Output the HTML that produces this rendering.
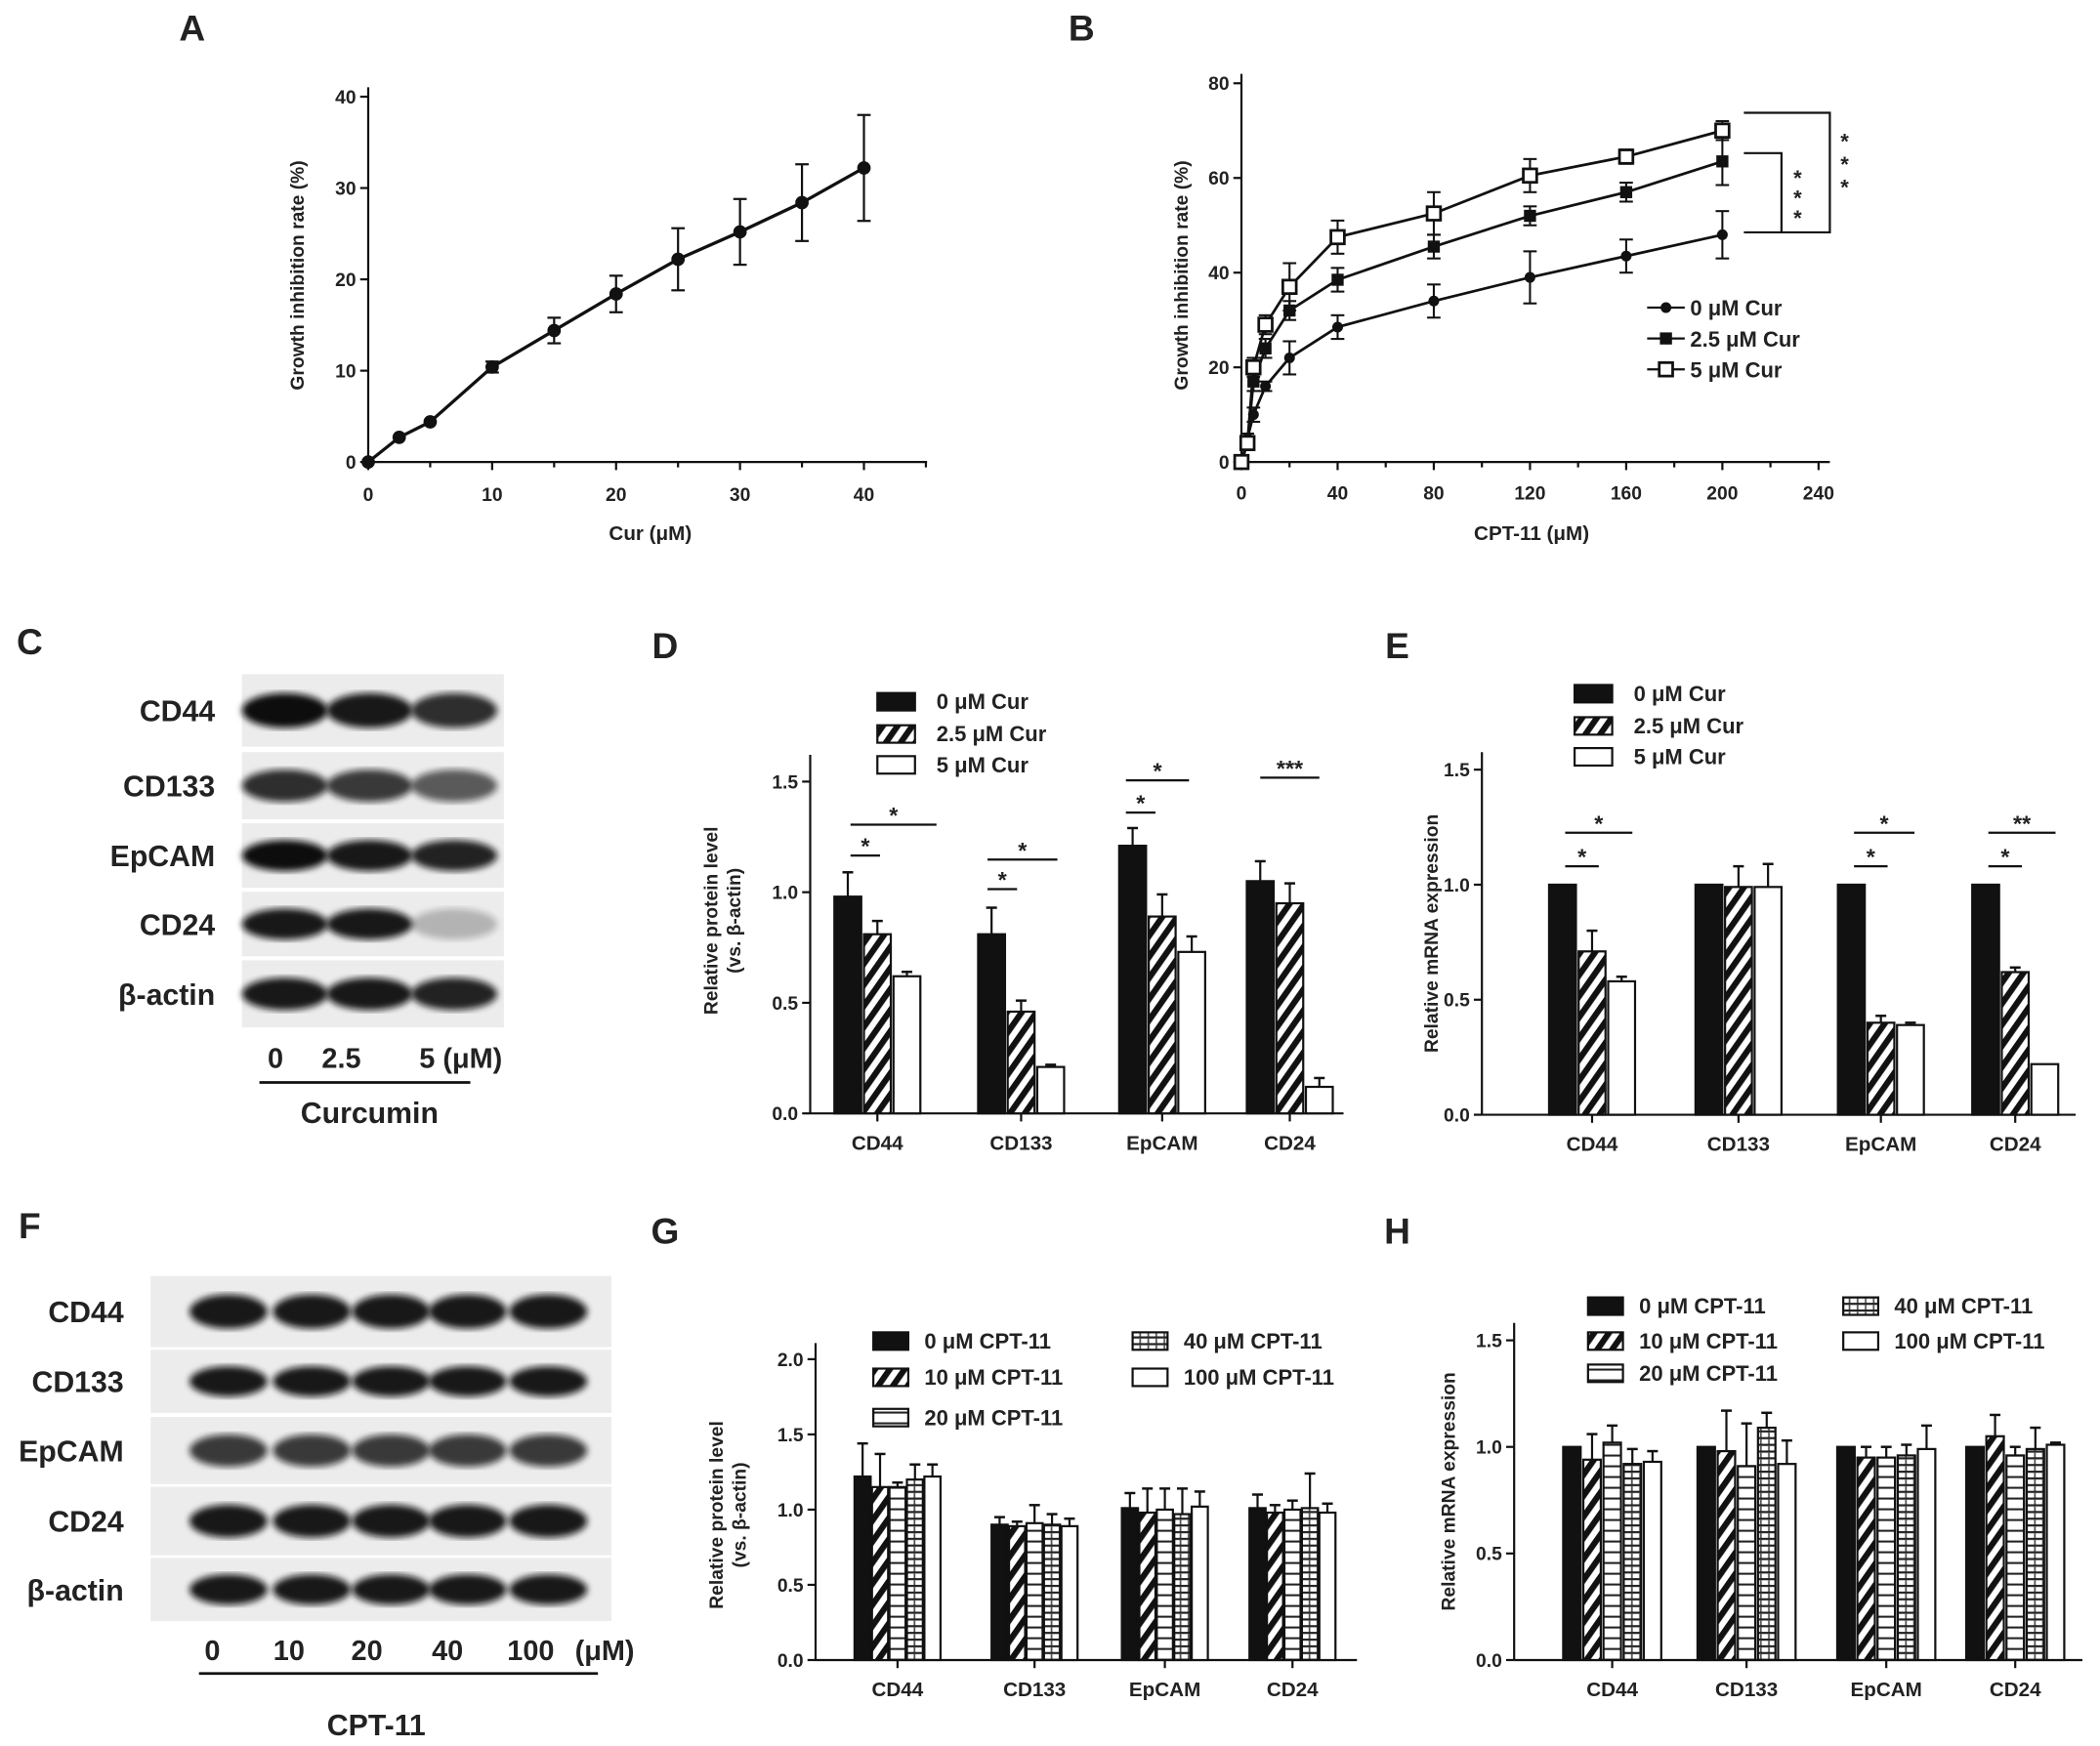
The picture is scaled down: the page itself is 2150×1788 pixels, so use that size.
<!DOCTYPE html>
<html><head><meta charset="utf-8"><style>
html,body{margin:0;padding:0;background:#fff}
svg{display:block}
text{font-family:"Liberation Sans",Arial,sans-serif;font-weight:bold;fill:#222}
</style></head><body>
<svg id="fig" width="2150" height="1788" viewBox="0 0 1563 1300" xmlns="http://www.w3.org/2000/svg">
<defs>
<pattern id="hatch" patternUnits="userSpaceOnUse" width="9" height="9" patternTransform="rotate(35)"><rect width="9" height="9" fill="#fff"/><rect width="4.5" height="9" fill="#111"/></pattern>
<pattern id="hstripe" patternUnits="userSpaceOnUse" width="8" height="8"><rect width="8" height="8" fill="#fff"/><rect y="3" width="8" height="1.5" fill="#222"/></pattern>
<pattern id="brick" patternUnits="userSpaceOnUse" width="6" height="5"><rect width="6" height="5" fill="#fff"/><rect y="0" width="6" height="1.6" fill="#222"/><rect x="2" y="1.6" width="1.3" height="3.4" fill="#555"/></pattern>
<filter id="blur"><feGaussianBlur stdDeviation="2.5"/></filter>
</defs>
<g id="root"></g>
</svg>
<script>
// ---------- Panel A data ----------
const aX=[0,2.5,5,10,15,20,25,30,35,40];
const aY=[0,2.7,4.4,10.4,14.4,18.4,22.2,25.2,28.4,32.2];
const aErr=[0,0.3,0.3,0.6,1.4,2,3.4,3.6,4.2,5.8];
// ---------- Panel B data ----------
const bX=[0,2.5,5,10,20,40,80,120,160,200];
const b0=[0,5,10,16,22,28.5,34,39,43.5,48];
const b0Err=[1,1,1.5,1,3.5,2.5,3.5,5.5,3.5,5];
const b25=[0,4,17,24,32,38.5,45.5,52,57,63.5];
const b25Err=[1,1,2,2,2,2.5,2.5,2,2,5];
const b5=[0,4,20,29,37,47.5,52.5,60.5,64.5,70];
const b5Err=[1,1,2,2,5,3.5,4.5,3.5,1.5,2];
// ---------- Panel D data ----------
const markers=['CD44','CD133','EpCAM','CD24'];
const d0=[0.98,0.81,1.21,1.05], d0Err=[0.11,0.12,0.08,0.09];
const d25=[0.81,0.46,0.89,0.95], d25Err=[0.06,0.05,0.1,0.09];
const d5=[0.62,0.21,0.73,0.12], d5Err=[0.02,0.01,0.07,0.04];
// ---------- Panel E data ----------
const e0=[1,1,1,1], e0Err=[0,0,0,0];
const e25=[0.71,0.99,0.4,0.62], e25Err=[0.09,0.09,0.03,0.02];
const e5=[0.58,0.99,0.39,0.22], e5Err=[0.02,0.1,0.01,0];
// ---------- Panel G data ----------
const g0=[1.22,0.9,1.01,1.01], g0Err=[0.22,0.05,0.1,0.09];
const g10=[1.15,0.89,0.98,0.98], g10Err=[0.22,0.03,0.16,0.05];
const g20=[1.15,0.91,1.0,1.0], g20Err=[0.03,0.12,0.14,0.06];
const g40=[1.2,0.9,0.97,1.01], g40Err=[0.1,0.07,0.17,0.23];
const g100=[1.22,0.89,1.02,0.98], g100Err=[0.08,0.05,0.1,0.06];
// ---------- Panel H data ----------
const h0=[1,1,1,1], h0Err=[0,0,0,0];
const h10=[0.94,0.98,0.95,1.05], h10Err=[0.12,0.19,0.05,0.1];
const h20=[1.02,0.91,0.95,0.96], h20Err=[0.08,0.2,0.05,0.04];
const h40=[0.92,1.09,0.96,0.99], h40Err=[0.07,0.07,0.05,0.1];
const h100=[0.93,0.92,0.99,1.01], h100Err=[0.05,0.11,0.11,0.01];
const ticksA=[0,10,20,30,40], ticksBy=[0,20,40,60,80], ticksBx=[0,40,80,120,160,200,240];
const ticks15=[0,0.5,1.0,1.5], ticks20=[0,0.5,1.0,1.5,2.0];

const NS='http://www.w3.org/2000/svg';
const root=document.getElementById('root');
function el(tag,attrs,parent){const e=document.createElementNS(NS,tag);for(const k in attrs)e.setAttribute(k,attrs[k]);(parent||root).appendChild(e);return e;}
function txt(x,y,s,size,anchor,parent,rot){const t=el('text',{x:x,y:y,'font-size':size,'text-anchor':anchor||'middle'},parent);if(rot)t.setAttribute('transform','rotate(-90 '+x+' '+y+')');t.textContent=s;return t;}
function line(x1,y1,x2,y2,w,parent){return el('line',{x1:x1,y1:y1,x2:x2,y2:y2,stroke:'#111','stroke-width':w||1.6},parent);}

[['A',143,30],['B',805,30],['C',22,487],['D',495,490],['E',1040,490],['F',22,922],['G',495,926],['H',1040,926]].forEach(p=>{
 const t=txt(p[1],p[2],p[0],27,'middle');
 
 
});

function yAxis(g,x,y0,scale,ticks,top,fmt){
 line(x,y0,x,top,1.6,g);
 ticks.forEach(v=>{const y=y0-v*scale;line(x-6,y,x,y,1.6,g);txt(x-9,y+5,fmt(v),14,'end',g);});
}

// ---------- Panel A ----------
(function(){
 const g=el('g',{});
 
 
 const X=v=>274+v*9.225, Y=v=>344-v*6.8;
 yAxis(g,274,344,6.8,ticksA,65,v=>v);
 line(274,344,690,344,1.6,g);
 [0,5,10,15,20,25,30,35,40,45].forEach(v=>{line(X(v),344,X(v),v%10===0?350:348,1.6,g);});
 ticksA.forEach(v=>txt(X(v),373,v,14,'middle',g));
 txt(484,402,'Cur (μM)',15,'middle',g);
 txt(226,205,'Growth inhibition rate (%)',14,'middle',g,true);
 el('polyline',{points:aX.map((x,i)=>X(x)+','+Y(aY[i])).join(' '),fill:'none',stroke:'#111','stroke-width':2.4},g);
 aX.forEach((x,i)=>{
  if(aErr[i]>0.5){line(X(x),Y(aY[i]-aErr[i]),X(x),Y(aY[i]+aErr[i]),1.6,g);line(X(x)-5,Y(aY[i]+aErr[i]),X(x)+5,Y(aY[i]+aErr[i]),1.6,g);line(X(x)-5,Y(aY[i]-aErr[i]),X(x)+5,Y(aY[i]-aErr[i]),1.6,g);}
  const c=el('circle',{cx:X(x),cy:Y(aY[i]),r:5,fill:'#111'},g);
  
  
 });
})();

// ---------- Panel B ----------
(function(){
 const g=el('g',{});
 
 
 const X=v=>924+v*1.79, Y=v=>344-v*3.525;
 yAxis(g,924,344,3.525,ticksBy,55,v=>v);
 line(924,344,1362,344,1.6,g);
 [0,20,40,60,80,100,120,140,160,180,200,220,240].forEach(v=>line(X(v),344,X(v),v%40===0?350:348,1.6,g));
 ticksBx.forEach(v=>txt(X(v),372,v,14,'middle',g));
 txt(1140,402,'CPT-11 (μM)',15,'middle',g);
 txt(884,205,'Growth inhibition rate (%)',14,'middle',g,true);
 const series=[[b0,b0Err,'circle'],[b25,b25Err,'square'],[b5,b5Err,'open']];
 series.forEach(s=>{
  el('polyline',{points:bX.map((x,i)=>X(x)+','+Y(s[0][i])).join(' '),fill:'none',stroke:'#111','stroke-width':2},g);
  bX.forEach((x,i)=>{
   const v=s[0][i],e=s[1][i];
   line(X(x),Y(v-e),X(x),Y(v+e),1.5,g);line(X(x)-5,Y(v+e),X(x)+5,Y(v+e),1.5,g);line(X(x)-5,Y(v-e),X(x)+5,Y(v-e),1.5,g);
   let m;
   if(s[2]==='circle')m=el('circle',{cx:X(x),cy:Y(v),r:4,fill:'#111'},g);
   else if(s[2]==='square')m=el('rect',{x:X(x)-4.5,y:Y(v)-4.5,width:9,height:9,fill:'#111'},g);
   else m=el('rect',{x:X(x)-5,y:Y(v)-5,width:10,height:10,fill:'#fff',stroke:'#111','stroke-width':2},g);
   
   
  });
 });
 el('polyline',{points:'1298,84 1362,84 1362,173 1298,173',fill:'none',stroke:'#111','stroke-width':1.6},g);
 el('polyline',{points:'1298,114 1326,114 1326,173',fill:'none',stroke:'#111','stroke-width':1.6},g);
 [[1338,130],[1338,145],[1338,160],[1373,103],[1373,120],[1373,137]].forEach(p=>txt(p[0],p[1]+8,'*',16,'middle',g));
 const lg=el('g',{},g);
 
 
 [['0 μM Cur',229,'circle'],['2.5 μM Cur',252,'square'],['5 μM Cur',275,'open']].forEach(l=>{
  line(1226,l[1],1254,l[1],1.6,lg);
  if(l[2]==='circle')el('circle',{cx:1240,cy:l[1],r:4,fill:'#111'},lg);
  else if(l[2]==='square')el('rect',{x:1235.5,y:l[1]-4.5,width:9,height:9,fill:'#111'},lg);
  else el('rect',{x:1235,y:l[1]-5,width:10,height:10,fill:'#fff',stroke:'#111','stroke-width':2},lg);
  txt(1258,l[1]+6,l[0],16,'start',lg);
 });
})();

// ---------- Blots ----------
function blot(name,x0,x1,rows,lanes,bandsFn,labelX){
 const g=el('g',{});
 
 
 rows.forEach((r,ri)=>{
  el('rect',{x:x0,y:r[1],width:x1-x0,height:r[2]-r[1],fill:'#ececec'},g);
  const cy=(r[1]+r[2])/2;
  lanes.forEach((lx,li)=>{
   const op=bandsFn(ri,li);
   el('ellipse',{cx:lx,cy:cy,rx:(lanes.length>3?29:32),ry:(r[2]-r[1])*0.24,fill:'#111',opacity:op,filter:'url(#blur)'},g);
  });
  txt(labelX,cy+8,r[0],22,'end',g);
 });
 return g;
}
const cInt=[[1,0.95,0.85],[0.85,0.8,0.65],[1,0.95,0.9],[0.95,0.95,0.25],[0.95,0.95,0.9]];
(function(){
 const g=blot('western-blot-c',180,375,[['CD44',502,556],['CD133',560,610],['EpCAM',613,661],['CD24',664,712],['β-actin',715,765]],[212,275,338],(r,l)=>cInt[r][l],160);
 txt(205,795,'0',21,'middle',g);txt(254,795,'2.5',21,'middle',g);txt(312,795,'5 (μM)',21,'start',g);
 line(193,806,350,806,2,g);
 txt(275,836,'Curcumin',22,'middle',g);
})();
(function(){
 const g=blot('western-blot-f',112,455,[['CD44',950,1003],['CD133',1005,1052],['EpCAM',1055,1105],['CD24',1107,1158],['β-actin',1160,1207]],[170,232,291,348,408],(r,l)=>r===2?0.8:0.95,92);
 [[158,'0'],[215,'10'],[273,'20'],[333,'40'],[395,'100'],[450,'(μM)']].forEach(p=>txt(p[0],1236,p[1],21,'middle',g));
 line(148,1246,445,1246,2,g);
 txt(280,1292,'CPT-11',22,'middle',g);
})();

// ---------- Bar charts ----------
function barChart(opt){
 const g=el('g',{});
 
 
 const Y=v=>opt.y0-v*opt.scale;
 yAxis(g,opt.x,opt.y0,opt.scale,opt.ticks,opt.top,v=>v.toFixed(1));
 line(opt.x,opt.y0,opt.xEnd,opt.y0,1.6,g);
 opt.centers.forEach((c,gi)=>{
  line(c,opt.y0,c,opt.y0+6,1.6,g);
  txt(c,opt.y0+27,markers[gi],15,'middle',g);
  opt.series.forEach((s,si)=>{
   const bx=c+(si-(opt.series.length-1)/2)*opt.step-opt.bw/2;
   const v=s.vals[gi],e=s.err[gi];
   const r=el('rect',{x:bx,y:Y(v),width:opt.bw,height:opt.y0-Y(v),fill:s.fill,stroke:'#111','stroke-width':1.6},g);
   
   
   if(e>0){const cx=bx+opt.bw/2;line(cx,Y(v),cx,Y(v+e),1.6,g);line(cx-4,Y(v+e),cx+4,Y(v+e),1.8,g);}
  });
 });
 opt.sig.forEach(s=>{line(s[0],s[2],s[1],s[2],1.6,g);txt((s[0]+s[1])/2,s[2]-1,s[3],17,'middle',g);});
 const lg=el('g',{},g);
 
 
 opt.legend.forEach(l=>{
  el('rect',{x:l[0],y:l[1]-6,width:opt.lw||28,height:13,fill:opt.series[l[3]].fill,stroke:'#111','stroke-width':1.6},lg);
  txt(l[0]+(opt.lt||44),l[1]+6,l[2],16,'start',lg);
 });
 txt(opt.titleX,(opt.y0+opt.top)/2+opt.titleDy,opt.title[0],14,'middle',g,true);
 if(opt.title[1])txt(opt.titleX+17,(opt.y0+opt.top)/2+opt.titleDy,opt.title[1],14,'middle',g,true);
}
barChart({name:'panel-d-bar-chart',x:603,y0:829,scale:164.7,ticks:ticks15,top:562,xEnd:1000,centers:[653,760,865,960],bw:20,step:22,
 series:[{key:'0',vals:d0,err:d0Err,fill:'#111'},{key:'2.5',vals:d25,err:d25Err,fill:'url(#hatch)'},{key:'5',vals:d5,err:d5Err,fill:'#fff'}],
 sig:[[633,655,637,'*'],[633,697,614,'*'],[735,757,662,'*'],[735,787,640,'*'],[838,860,605,'*'],[838,885,581,'*'],[938,982,579,'***']],
 legend:[[653,522,'0 μM Cur',0],[653,546,'2.5 μM Cur',1],[653,569,'5 μM Cur',2]],
 title:['Relative protein level','(vs. β-actin)'],titleX:534,titleDy:-10});
barChart({name:'panel-e-bar-chart',x:1103,y0:830,scale:171.3,ticks:ticks15,top:560,xEnd:1545,centers:[1185,1294,1400,1500],bw:20,step:22,
 series:[{key:'0',vals:e0,err:e0Err,fill:'#111'},{key:'2.5',vals:e25,err:e25Err,fill:'url(#hatch)'},{key:'5',vals:e5,err:e5Err,fill:'#fff'}],
 sig:[[1165,1190,645,'*'],[1165,1215,620,'*'],[1380,1405,645,'*'],[1380,1425,620,'*'],[1480,1505,645,'*'],[1480,1530,620,'**']],
 legend:[[1172,516,'0 μM Cur',0],[1172,540,'2.5 μM Cur',1],[1172,563,'5 μM Cur',2]],
 title:['Relative mRNA expression'],titleX:1070,titleDy:0});
barChart({name:'panel-g-bar-chart',x:607,y0:1236,scale:112,ticks:ticks20,top:1000,xEnd:1010,centers:[668,770,867,962],bw:12,step:13,
 series:[{key:'0',vals:g0,err:g0Err,fill:'#111'},{key:'10',vals:g10,err:g10Err,fill:'url(#hatch)'},{key:'20',vals:g20,err:g20Err,fill:'url(#hstripe)'},{key:'40',vals:g40,err:g40Err,fill:'url(#brick)'},{key:'100',vals:g100,err:g100Err,fill:'#fff'}],
 sig:[],lw:26,lt:38,
 legend:[[650,998,'0 μM CPT-11',0],[650,1025,'10 μM CPT-11',1],[650,1055,'20 μM CPT-11',2],[843,998,'40 μM CPT-11',3],[843,1025,'100 μM CPT-11',4]],
 title:['Relative protein level','(vs. β-actin)'],titleX:538,titleDy:10});
barChart({name:'panel-h-bar-chart',x:1127,y0:1236,scale:158.7,ticks:ticks15,top:985,xEnd:1550,centers:[1200,1300,1404,1500],bw:13,step:15,
 series:[{key:'0',vals:h0,err:h0Err,fill:'#111'},{key:'10',vals:h10,err:h10Err,fill:'url(#hatch)'},{key:'20',vals:h20,err:h20Err,fill:'url(#hstripe)'},{key:'40',vals:h40,err:h40Err,fill:'url(#brick)'},{key:'100',vals:h100,err:h100Err,fill:'#fff'}],
 sig:[],lw:26,lt:38,
 legend:[[1182,972,'0 μM CPT-11',0],[1182,998,'10 μM CPT-11',1],[1182,1022,'20 μM CPT-11',2],[1372,972,'40 μM CPT-11',3],[1372,998,'100 μM CPT-11',4]],
 title:['Relative mRNA expression'],titleX:1083,titleDy:0});
</script>
</body></html>
